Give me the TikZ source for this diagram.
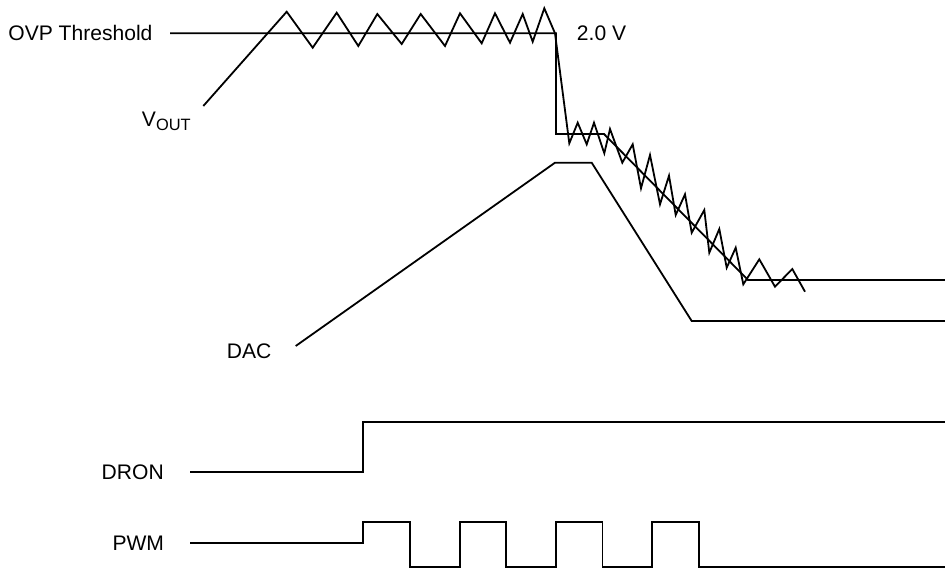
\documentclass[tikz,border=0pt]{standalone}
\usepackage{fontspec}
\setmainfont{Liberation Sans}
\usepackage{tikz}

\begin{document}
\begin{tikzpicture}[x=0.75pt, y=-0.75pt,
        wave/.style={black, line width=1.35pt},
        sigtext/.style={black, inner sep=0pt, font=\fontsize{15.8}{18}\selectfont}]

        \useasboundingbox (0,0) rectangle (945,569);

        % threshold level, stepped down after the fault
        \draw[wave] (170,33.3) -- (556,33.3) -- (556,134) -- (604,134) -- (748,280) -- (945,280);

        % output voltage with ripple
        \draw[wave] (203.3,106) -- (286.7,11.7) -- (312.7,47.7) -- (336.7,12.7) -- (358.3,46)
                -- (377.3,14) -- (401.7,44) -- (420.7,14) -- (445,46) -- (460,13.3)
                -- (481.7,43.3) -- (495,13.3) -- (510,42.7) -- (522.7,14) -- (532.7,41.7)
                -- (544.3,8.3) -- (555,33.3) -- (569.3,143.3) -- (577.7,122.7) -- (586.7,144.3)
                -- (594,122.7) -- (604.3,153.3) -- (610,129) -- (622.3,162.7) -- (632.7,144.3)
                -- (641,188.3) -- (650,155) -- (660,204.3) -- (669,175.7) -- (675.7,215)
                -- (685,194.3) -- (691.7,232.7) -- (704.3,210) -- (709.3,252.7) -- (719.3,229)
                -- (726.7,267.7) -- (735.7,247.7) -- (743.3,284.3) -- (759.3,259.3) -- (775,286.7)
                -- (792.3,269) -- (805,291.7);

        % DAC
        \draw[wave] (295.7,346) -- (555,162.7) -- (591.7,162.7) -- (691.7,321) -- (945,321);

        % DRON
        \draw[wave] (190,472.3) -- (363.3,472.3) -- (363.3,421.7) -- (945,421.7);

        % PWM
        \draw[wave] (190,543.3) -- (363.3,543.3) -- (363.3,521.7) -- (409.7,521.7)
                -- (409.7,566.7) -- (459.8,566.7) -- (459.8,521.7) -- (506,521.7)
                -- (506,566.7) -- (555.7,566.7) -- (555.7,521.7) -- (602.5,521.7)
                -- (602.5,566.7) -- (652,566.7) -- (652,521.7) -- (699,521.7)
                -- (699,566.7) -- (945,566.7);

        \node[sigtext, anchor=base east] (ovp) at (152.7,40.8) {OVP Threshold};
        \node[sigtext, anchor=base west] (lvl) at (576.7,40.7) {2.0 V};
        \node[sigtext, anchor=base west] (vout) at (141.7,126.7) {V\raisebox{-2.5pt}{\fontsize{12.3}{12}\selectfont OUT}};
        \node[sigtext, anchor=base west] (dac) at (226.7,358.3) {DAC};
        \node[sigtext, anchor=base east] (dron) at (164,479.3) {DRON};
        \node[sigtext, anchor=base east] (pwm) at (164.3,550) {PWM};
\end{tikzpicture}
\end{document}
